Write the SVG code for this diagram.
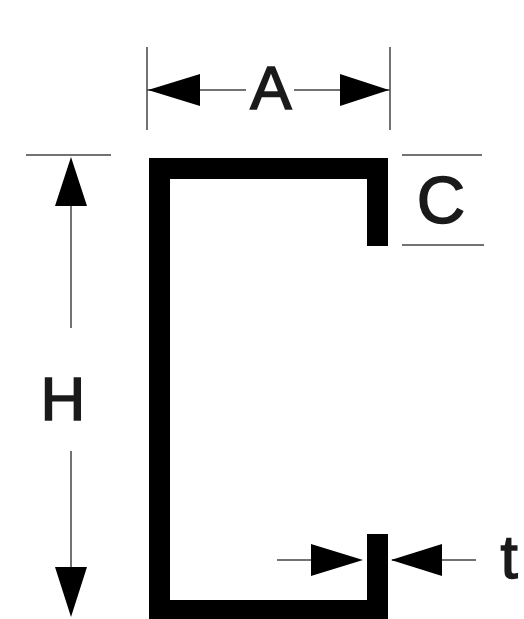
<svg xmlns="http://www.w3.org/2000/svg" width="524" height="619" viewBox="0 0 524 619">
<style>
.t{font-family:"Liberation Sans",Arial,sans-serif;fill:#1a1a1a;stroke:#1a1a1a;stroke-width:1.6;text-anchor:middle;font-size:62px}
.l{stroke:#444;stroke-width:1.5;fill:none}
.h{fill:#000}
</style>
<rect width="524" height="619" fill="#fff"/>
<g id="section"><path d="M149 158H388V246H367V179H170V600H367V534H388V619H149Z" fill="#000"/></g>
<g id="connectors">
<path class="l" d="M147 47V130M390 47V130M147 90H246M294 90H390M26 155H111M402 155H482M402 245H484M71 205V328M71 451V567M277 560H312M392 560H476"/>
<path class="h" d="M148 90L200 74V106ZM389 90L340 74V106ZM71 157L55 206H87ZM71 617L55 567H87ZM363 560L311 544V576ZM391 560L442 544V576Z"/>
</g>
<g id="labels">
<text class="t" x="271" y="109">A</text>
<text class="t" x="441" y="223" style="font-size:67px">C</text>
<text class="t" x="63" y="420">H</text>
<text class="t" x="509" y="578">t</text>
</g>
</svg>
